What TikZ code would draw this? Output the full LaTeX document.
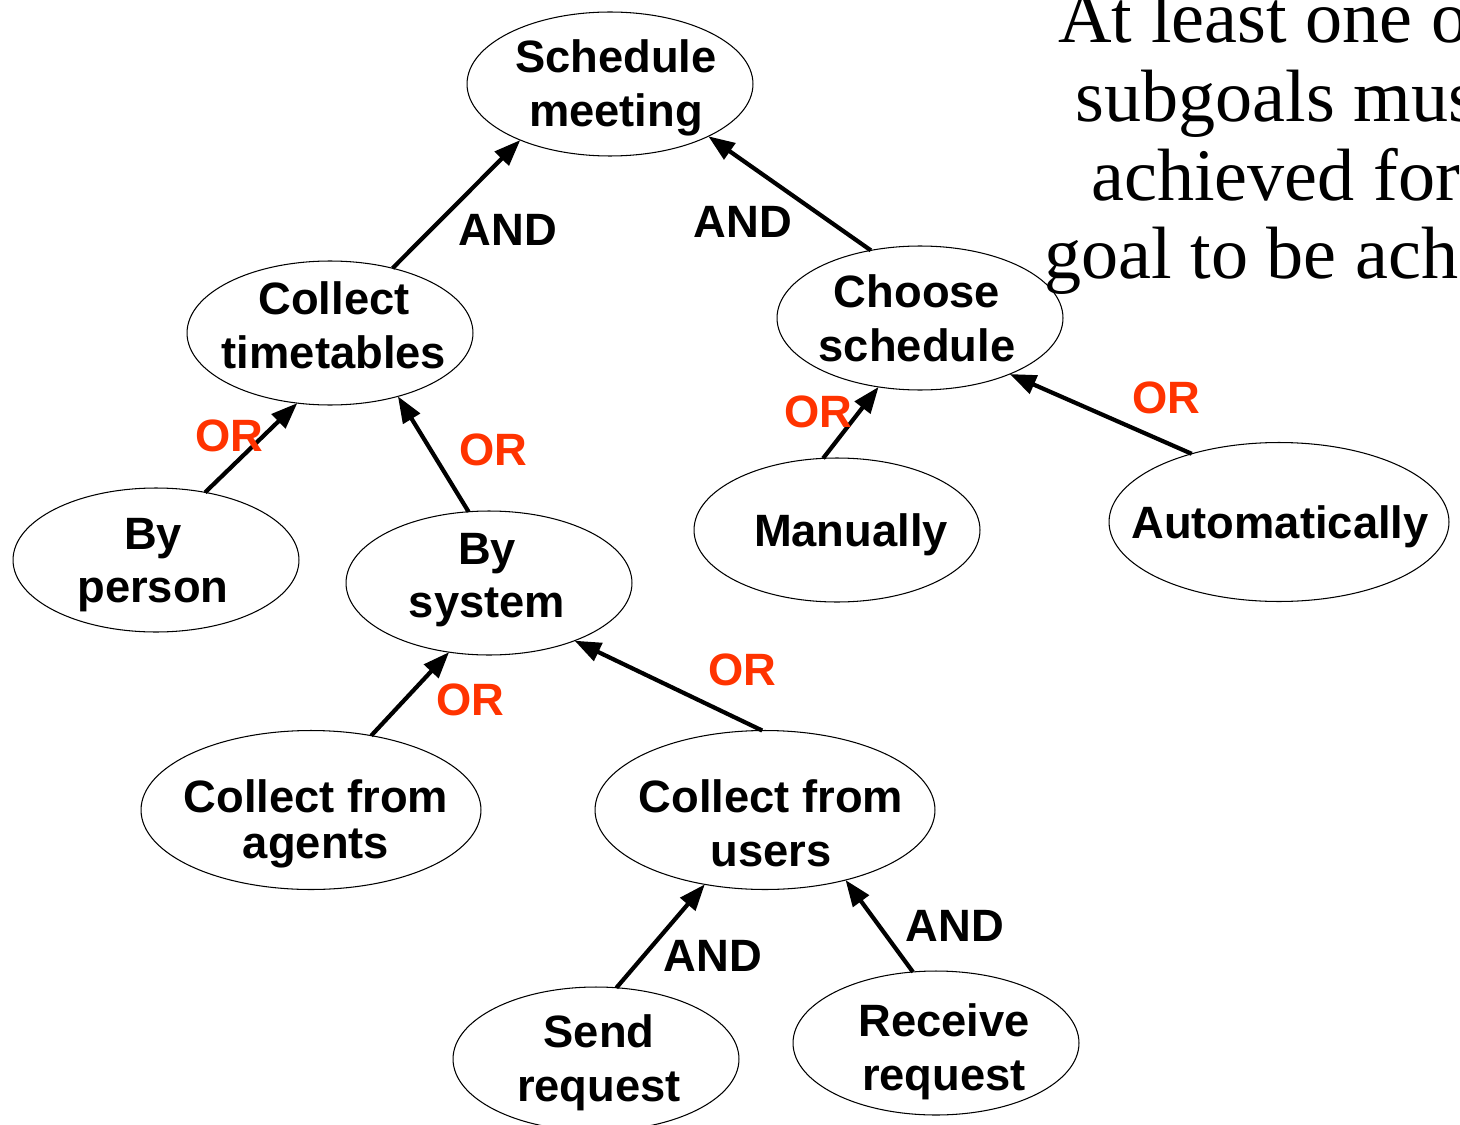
\documentclass[tikz,border=0pt]{standalone}
\usepackage{fontspec}
\setmainfont{Liberation Serif}
\newfontfamily\goalfont{Liberation Sans}
\usetikzlibrary{shapes.geometric,arrows.meta}
\definecolor{orred}{RGB}{255,51,0}
\begin{document}
\begin{tikzpicture}[x=0.02cm,y=-0.02cm,
  goal/.style={ellipse, draw, line width=0.6pt, inner sep=0pt, outer sep=0pt,
    minimum width=5.72cm, minimum height=2.88cm},
  biggoal/.style={goal, minimum width=6.8cm, minimum height=3.18cm},
  goaltext/.style={inner sep=0pt, align=center,
    font=\goalfont\fontsize{25.8}{30.6}\selectfont\bfseries},
  link/.style={-{Triangle[length=15pt,width=11pt]}, line width=2.4pt},
  andlbl/.style={inner sep=0pt, font=\goalfont\fontsize{25.8}{30.6}\selectfont\bfseries},
  orlbl/.style={andlbl, text=orred},
  note/.style={anchor=base west, inner sep=0pt, font=\fontsize{42.2}{44}\selectfont}]
\useasboundingbox (0,0) rectangle (1460,1125);

% goal outlines
\node[goal]    (sm) at (610,84)   {};
\node[goal]    (ct) at (330,333)  {};
\node[goal]    (cs) at (920,318)  {};
\node[goal]    (bp) at (156,560)  {};
\node[goal]    (bs) at (489,583)  {};
\node[goal]    (ma) at (837,530)  {};
\node[biggoal] (au) at (1279,522) {};
\node[biggoal] (ca) at (311,810)  {};
\node[biggoal] (cu) at (765,810)  {};
\node[goal]    (sr) at (596,1059) {};
\node[goal]    (rr) at (936,1043) {};

% goal names
\node[goaltext] (smt) at (616,88)   {Schedule\\meeting};
\node[goaltext] (ctt) at (334,325)  {Collect\\timetables};
\node[goaltext] (cst) at (917,318)  {Choose\\schedule};
\node[goaltext] (bpt) at (153,565)  {By\\person};
\node[goaltext] (bst) at (487,580)  {By\\system};
\node[goaltext] (mat) at (851,535)  {Manually};
\node[goaltext] (aut) at (1280,527) {Automatically};
\node[goaltext] (cat) at (316,824)  {Collect from\\[-4.5pt]agents};
\node[goaltext] (cut) at (771,823)  {Collect from\\users};
\node[goaltext] (srt) at (599,1063) {Send\\request};
\node[goaltext] (rrt) at (944,1052) {Receive\\request};

% decomposition links
\draw[link] (ct.46.4)  -- (sm.212.7);
\draw[link] (cs.126.4) -- (sm.332.2);
\draw[link] (bp.54.5)  -- (ct.245.1);
\draw[link] (bs.106.8) -- (ct.317.1);
\draw[link] (ma.101)   -- (cs.239.2);
\draw[link] (au.142.5) -- (cs.328);
\draw[link] (ca.51.1)  -- (bs.240.1);
\draw[link] (cu.92)    -- (bs.326.2);
\draw[link] (sr.74)    -- (cu.231.9);
\draw[link] (rr.108.2) -- (cu.319.1);

% AND / OR labels
\node[andlbl] (and1) at (508,230) {AND};
\node[andlbl] (and2) at (743,222) {AND};
\node[orlbl]  (or1)  at (229,436) {OR};
\node[orlbl]  (or2)  at (493,450) {OR};
\node[orlbl]  (or3)  at (818,412) {OR};
\node[orlbl]  (or4)  at (1166,398) {OR};
\node[orlbl]  (or5)  at (470,700) {OR};
\node[orlbl]  (or6)  at (742,670) {OR};
\node[andlbl] (and3) at (713,956) {AND};
\node[andlbl] (and4) at (955,926) {AND};

% explanatory note
\node[note] (n1) at (1058,43)  {At least one o};
\node[note] (n2) at (1075,122) {subgoals mus};
\node[note] (n3) at (1091,201) {achieved for};
\node[note] (n4) at (1044,278) {goal to be ach};
\end{tikzpicture}
\end{document}
